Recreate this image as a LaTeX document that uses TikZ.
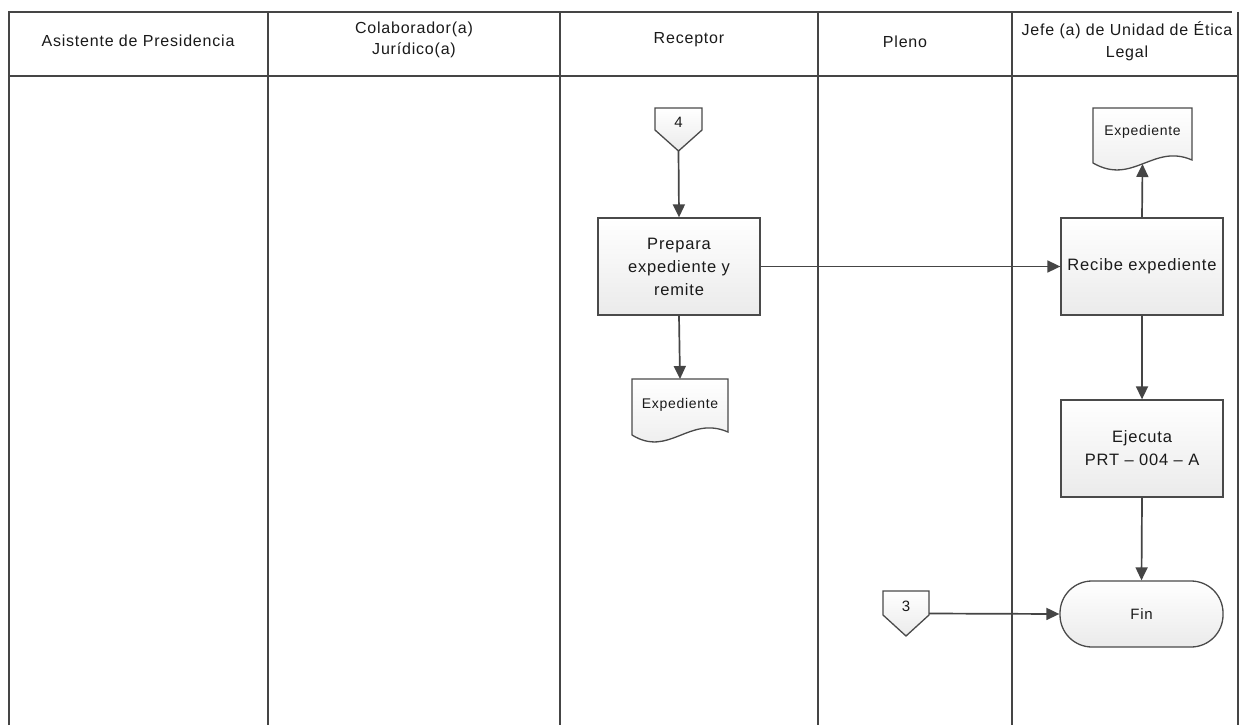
\documentclass[tikz,border=0pt]{standalone}
\usepackage{fontspec}
\setmainfont{Liberation Sans}
\newfontfamily\lab[LetterSpace=5]{Liberation Sans}
\usetikzlibrary{arrows.meta,calc}

\pgfdeclarelayer{paper}
\pgfdeclarelayer{shapes}
\pgfsetlayers{paper,shapes,main}

\definecolor{lanec}{HTML}{454545}
\definecolor{shapec}{HTML}{4A4A4A}
\definecolor{txtc}{HTML}{1A1A1A}

\tikzset{
  lane/.style={draw=lanec, line width=1.5pt},
  hdr/.style={align=center, text=txtc, font=\lab\fontsize{16}{21.5}\selectfont, inner sep=0pt},
  shapeline/.style={draw=shapec, line width=1.3pt, top color=white, bottom color=gray!16},
  procbox/.style={shapeline, minimum width=162pt, minimum height=97pt, align=center,
    text=txtc, font=\lab\fontsize{16.5}{23}\selectfont, inner sep=0pt},
  termbox/.style={shapeline, rounded corners=32pt, minimum width=163pt, minimum height=66pt,
    text=txtc, font=\lab\fontsize{15}{16}\selectfont, inner sep=0pt},
  ghost/.style={inner sep=0pt, outer sep=0pt},
  smalltxt/.style={text=txtc, font=\lab\fontsize{14}{15}\selectfont, inner sep=0pt},
  numtxt/.style={text=txtc, font=\lab\fontsize{15}{16}\selectfont, inner sep=0pt},
  flow/.style={draw=lanec, line width=1.7pt, -{Triangle[length=13pt,width=12pt]}},
}

% document symbol with a wavy lower edge, drawn around a ghost node
\newcommand\docoutline[1]{%
  \draw[shapeline] (#1.north west) -- (#1.north east) -- (#1.south east)
    .. controls ($(#1.south east)+(-39,-17)$) and ($(#1.south east)+(-59,26)$)
    .. ($(#1.south west)+(0,3)$) -- cycle;}

% off-page connector (pentagon pointing down)
\newcommand\offpage[2]{%
  \draw[shapeline] (#1.north west) -- (#1.north east) -- ($(#1.north east)+(0,#2)$)
    -- (#1.south) -- ($(#1.north west)+(0,#2)$) -- cycle;}

\begin{document}
\begin{tikzpicture}[x=1pt, y=-1pt]
\useasboundingbox (0,0) rectangle (1244,725);
\begin{pgfonlayer}{paper}
  \fill[white] (0,0) rectangle (1244,725);
\end{pgfonlayer}

% swimlane frame
\coordinate (tl) at (9,12);
\coordinate (tr) at (1238,12);
\draw[lane] (9,725) -- (tl) -- (1232,12);
\draw[lane] (tr) -- (1238,725);
\draw[lane] (9,76) -- (1238,76);
\foreach \xx in {268,560,818,1012} \draw[lane] (\xx,12) -- (\xx,725);

% lane headings
\node[hdr] (h1) at (138,41) {Asistente de Presidencia};
\node[hdr] (h2) at (414,40) {Colaborador(a)\\Jurídico(a)};
\node[hdr] (h3) at (689,40) {Receptor};
\node[hdr] (h4) at (905,42) {Pleno};
\node[hdr] (h5) at (1127,41) {Jefe (a) de Unidad de Ética\\Legal};

% shapes
\node[ghost, minimum width=47pt, minimum height=43pt] (c4) at (678.5,129.5) {};
\node[procbox] (prep) at (679,266.5) {Prepara\\expediente y\\remite};
\node[ghost, minimum width=96pt, minimum height=53pt] (d1) at (680,405.5) {};

\node[procbox] (recv) at (1142,266.5) {Recibe expediente};
\node[ghost, minimum width=99pt, minimum height=52pt] (d2) at (1142.5,134) {};
\node[procbox] (exec) at (1142,448.5) {Ejecuta\\PRT – 004 – A};
\node[termbox] (fin) at (1141.5,614) {Fin};
\node[ghost, minimum width=46pt, minimum height=45pt] (c3) at (906,613.5) {};

\begin{pgfonlayer}{shapes}
  \offpage{c4}{22}
  \offpage{c3}{24}
  \docoutline{d1}
  \docoutline{d2}
\end{pgfonlayer}

\node[numtxt] (t4) at ($(c4.north)+(0,14)$) {4};
\node[numtxt] (t3) at ($(c3.north)+(0,15)$) {3};
\node[smalltxt] (td1) at ($(d1.center)+(0,-1)$) {Expediente};
\node[smalltxt] (td2) at ($(d2.center)+(0,-2)$) {Expediente};

\coordinate (d2b) at ($(d2.south)+(0,4)$);

% connectors
\draw[flow] (c4.south) -- (prep.north);
\draw[flow] (prep.south) -- (d1.north);
\draw[flow] (prep.east) -- (recv.west);
\draw[flow] (recv.north) -- (d2b);
\draw[flow] (recv.south) -- (exec.north);
\draw[flow] (exec.south) -- (fin.north);
\draw[flow] (c3.east) -- (fin.west);
\end{tikzpicture}
\end{document}
